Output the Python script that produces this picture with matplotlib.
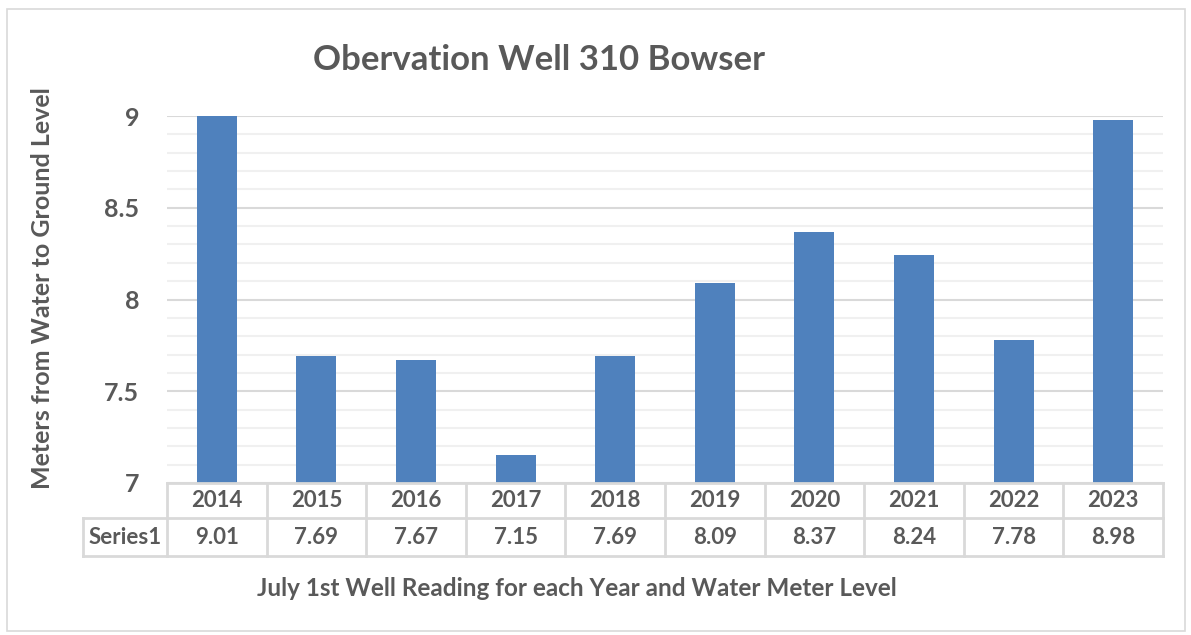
import matplotlib.pyplot as plt
import matplotlib.transforms as mtransforms
from matplotlib.patches import Rectangle
import numpy as np

years = ["2014", "2015", "2016", "2017", "2018", "2019", "2020", "2021", "2022", "2023"]
levels = [9.01, 7.69, 7.67, 7.15, 7.69, 8.09, 8.37, 8.24, 7.78, 8.98]
series_name = "Series1"

plt.rcParams["font.family"] = ["Lato", "DejaVu Sans"]
text_col = "#595959"
bar_col = "#4F81BD"
grid_major = "#D9D9D9"
grid_minor = "#F0F0F0"

fig = plt.figure(figsize=(11.91, 6.35), dpi=100)
W, H = 1191, 635
ax = fig.add_axes([167 / W, 1 - 483 / H, (1163 - 167) / W, (483 - 116) / H])

x = np.arange(len(years))
ax.bar(x, levels, width=0.4, bottom=0, color=bar_col, zorder=3)
ax.set_xlim(-0.5, len(years) - 0.5)
ax.set_ylim(7, 9)
ax.set_yticks([7, 7.5, 8, 8.5, 9])
ax.set_yticklabels(["7", "7.5", "8", "8.5", "9"])
ax.set_yticks(np.arange(7, 9.01, 0.1), minor=True)
ax.grid(axis="y", which="minor", color=grid_minor, lw=1.5, zorder=0)
ax.grid(axis="y", which="major", color=grid_major, lw=1.5, zorder=1)
ax.tick_params(axis="y", which="both", length=0, labelsize=18, labelcolor=text_col, pad=20)
for lab in ax.get_yticklabels():
    lab.set_fontweight("bold")
ax.set_xticks([])
for s in ax.spines.values():
    s.set_visible(False)

# data table under the axis
trans = mtransforms.blended_transform_factory(ax.transData, ax.transAxes)
ah = 483 - 116
r1 = -35 / ah
r2 = -73 / ah
lc = "#D9D9D9"
lw = 2
left = -0.5 - 84 / 99.6
right = len(years) - 0.5
ax.plot([-0.5, right], [0, 0], color=lc, lw=lw, transform=trans, clip_on=False, zorder=4)
ax.plot([left, right], [r1, r1], color=lc, lw=lw, transform=trans, clip_on=False)
ax.plot([left, right], [r2, r2], color=lc, lw=lw, transform=trans, clip_on=False)
ax.plot([left, left], [r1, r2], color=lc, lw=lw, transform=trans, clip_on=False)
for i in range(len(years) + 1):
    ax.plot([i - 0.5, i - 0.5], [0, r2], color=lc, lw=lw, transform=trans, clip_on=False)
for i, (yr, v) in enumerate(zip(years, levels)):
    ax.text(i, r1 / 2, yr, transform=trans, ha="center", va="center",
            fontsize=16, fontweight="bold", color=text_col)
    ax.text(i, (r1 + r2) / 2, f"{v:.2f}", transform=trans, ha="center", va="center",
            fontsize=16, fontweight="bold", color=text_col)
ax.text((left - 0.5) / 2, (r1 + r2) / 2, series_name, transform=trans, ha="center",
        va="center", fontsize=16, fontweight="bold", color=text_col)

fig.text(539 / W, 1 - 60 / H, "Obervation Well 310 Bowser", ha="center", va="center",
         fontsize=25, fontweight="bold", color=text_col)
fig.text(43 / W, 1 - 288 / H, "Meters from Water to Ground Level", ha="center", va="center",
         rotation=90, fontsize=18, fontweight="bold", color=text_col)
fig.text(577 / W, 1 - 588 / H, "July 1st Well Reading for each Year and Water Meter Level",
         ha="center", va="center", fontsize=17.5, fontweight="bold", color=text_col)

# chart border
fig.patches.append(Rectangle((7 / W, 4 / H), 1178 / W, 622 / H, transform=fig.transFigure,
                             fill=False, edgecolor="#D9D9D9", lw=1.2))

fig.savefig("out.png", dpi=100, facecolor="white")
